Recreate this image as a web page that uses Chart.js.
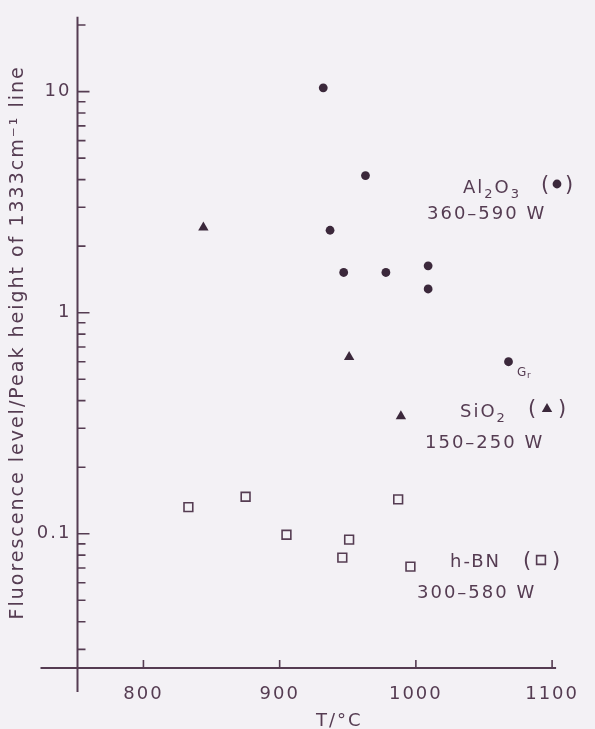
<!DOCTYPE html>
<html>
<head>
<meta charset="utf-8">
<script src="https://cdn.jsdelivr.net/npm/chart.js@4/dist/chart.umd.min.js"></script>
<style>
  html, body { margin: 0; padding: 0; background: #f3f1f5; }
  canvas { display: block; }
</style>
</head>
<body>
<canvas id="chart" width="595" height="729"></canvas>
<script>
// values: temperature (°C) and fluorescence / 1333 cm-1 peak ratio
const al2o3T = [932, 937, 947, 963, 978, 1009, 1009, 1068];
const al2o3Y = [10.4, 2.36, 1.52, 4.17, 1.52, 1.63, 1.28, 0.60];
const sio2T = [844, 951, 989];
const sio2Y = [2.43, 0.63, 0.34];
const hbnT = [833, 875, 905, 946, 951, 987, 996];
const hbnY = [0.132, 0.147, 0.099, 0.078, 0.094, 0.143, 0.071];

const xTicks = [800, 900, 1000, 1100];
const yTicks = [0.1, 1, 10];
const yMinorTicks = [0.03, 0.04, 0.05, 0.06, 0.07, 0.08, 0.09,
                     0.2, 0.3, 0.4, 0.5, 0.6, 0.7, 0.8, 0.9,
                     2, 3, 4, 5, 6, 7, 8, 9, 20];

const bg = '#f3f1f5';
const ink = '#553c52';   // axes and text
const mark = '#3b283b';  // filled markers
const fontFamily = '"DejaVu Sans", sans-serif';

function toPoints(xs, ys) {
    return xs.map((v, i) => ({ x: v, y: ys[i] }));
}

// draw a run of text pieces, subscripts dropped and smaller
function drawRuns(ctx, x, y, parts) {
    parts.forEach(([txt, sub]) => {
        ctx.font = (sub ? 13 : 18) + 'px ' + fontFamily;
        ctx.fillText(txt, x, y + (sub ? 5 : 0));
        x += ctx.measureText(txt).width;
    });
}

// parentheses around a key marker
function drawParens(ctx, left, right, y) {
    ctx.save();
    ctx.letterSpacing = '0px';
    ctx.textAlign = 'center';
    ctx.font = '21px ' + fontFamily;
    ctx.fillText('(', left, y);
    ctx.fillText(')', right, y);
    ctx.restore();
}

const framePlugin = {
    id: 'frame',
    beforeUpdate(chart) {
        chart.ctx.letterSpacing = '2px';
    },
    beforeDraw(chart) {
        const ctx = chart.ctx;
        ctx.letterSpacing = '2px';
        ctx.save();
        ctx.fillStyle = bg;
        ctx.fillRect(0, 0, chart.width, chart.height);
        ctx.restore();
    },
    beforeDatasetsDraw(chart) {
        const { ctx, scales: { x, y } } = chart;
        ctx.save();
        ctx.strokeStyle = ink;
        ctx.lineWidth = 2;
        ctx.beginPath();
        // axes cross and overshoot each other a little
        ctx.moveTo(x.left, y.top);
        ctx.lineTo(x.left, y.bottom + 24);
        ctx.moveTo(x.left - 37, y.bottom);
        ctx.lineTo(x.right + 4, y.bottom);
        ctx.stroke();

        ctx.lineWidth = 1.6;
        ctx.beginPath();
        yTicks.forEach(v => {
            const p = y.getPixelForValue(v);
            ctx.moveTo(x.left, p);
            ctx.lineTo(x.left + 12, p);
        });
        yMinorTicks.forEach(v => {
            const p = y.getPixelForValue(v);
            ctx.moveTo(x.left, p);
            ctx.lineTo(x.left + 8, p);
        });
        xTicks.forEach(v => {
            const p = x.getPixelForValue(v);
            ctx.moveTo(p, y.bottom);
            ctx.lineTo(p, y.bottom - 8);
        });
        ctx.stroke();
        ctx.restore();
    },
    afterDatasetsDraw(chart) {
        const ctx = chart.ctx;
        const ds = chart.data.datasets;
        ctx.save();
        ctx.fillStyle = ink;
        ctx.textAlign = 'left';
        ctx.textBaseline = 'alphabetic';

        // x axis title sits right of centre in the original
        drawRuns(ctx, 316, 726, [['T/°C', false]]);

        // Al2O3 label
        drawRuns(ctx, 463, 193, [['Al', false], ['2', true], ['O', false], ['3', true]]);
        drawParens(ctx, 545, 569, 191);
        drawRuns(ctx, 427, 219, [['360–590 W', false]]);

        // SiO2 label
        drawRuns(ctx, 460, 417, [['SiO', false], ['2', true]]);
        drawParens(ctx, 532, 562, 415);
        drawRuns(ctx, 425, 448, [['150–250 W', false]]);

        // h-BN label
        drawRuns(ctx, 450, 567, [['h-BN', false]]);
        drawParens(ctx, 527, 556, 567);
        drawRuns(ctx, 417, 598, [['300–580 W', false]]);

        // "Gr" tag beside the last Al2O3 point
        ctx.letterSpacing = '0px';
        ctx.font = '12px ' + fontFamily;
        ctx.fillText('G', 517, 376);
        ctx.font = '9px ' + fontFamily;
        ctx.fillText('r', 527, 378);

        // key markers inside the parentheses, same style as the datasets
        const key = (d, px, py) => {
            ctx.fillStyle = d.backgroundColor;
            ctx.strokeStyle = d.borderColor;
            ctx.lineWidth = d.borderWidth;
            Chart.helpers.drawPoint(ctx, {
                pointStyle: d.pointStyle, radius: d.pointRadius,
                borderWidth: d.borderWidth, rotation: 0
            }, px, py);
        };
        key(ds[0], 557, 184);
        key(ds[1], 547, 409);
        key(ds[2], 541, 560);
        ctx.restore();
    }
};

const tickFont = { family: fontFamily, size: 18 };

new Chart(document.getElementById('chart'), {
    type: 'scatter',
    data: {
        datasets: [
            {
                label: 'Al2O3 (360-590 W)',
                data: toPoints(al2o3T, al2o3Y),
                pointStyle: 'circle',
                pointRadius: 4.4,
                backgroundColor: mark,
                borderColor: mark,
                borderWidth: 0,
            },
            {
                label: 'SiO2 (150-250 W)',
                data: toPoints(sio2T, sio2Y),
                pointStyle: 'triangle',
                pointRadius: 6,
                backgroundColor: mark,
                borderColor: mark,
                borderWidth: 0,
            },
            {
                label: 'h-BN (300-580 W)',
                data: toPoints(hbnT, hbnY),
                pointStyle: 'rect',
                pointRadius: 6.2,
                backgroundColor: bg,
                borderColor: ink,
                borderWidth: 1.6,
            },
        ],
    },
    options: {
        responsive: false,
        animation: false,
        devicePixelRatio: 1,
        layout: { padding: { left: 0, top: 14, right: 39, bottom: 0 } },
        plugins: {
            legend: { display: false },
            tooltip: { enabled: false },
        },
        scales: {
            x: {
                type: 'linear',
                min: 751.6,
                max: 1100,
                grid: { display: false, drawTicks: false },
                border: { display: false },
                afterBuildTicks: s => { s.ticks = xTicks.map(v => ({ value: v })); },
                afterFit: s => { s.height = 61; },
                ticks: {
                    font: tickFont,
                    color: ink,
                    padding: 16,
                    maxRotation: 0,
                    autoSkip: false,
                    callback: v => String(v),
                },
            },
            y: {
                type: 'logarithmic',
                min: 0.0247,
                max: 21.8,
                grid: { display: false, drawTicks: false },
                border: { display: false },
                afterBuildTicks: s => { s.ticks = yTicks.map(v => ({ value: v })); },
                afterFit: s => { s.width = 77.5; },
                ticks: {
                    font: tickFont,
                    color: ink,
                    padding: 6,
                    autoSkip: false,
                    callback: v => String(v),
                },
                title: {
                    display: true,
                    text: 'Fluorescence level/Peak height of 1333cm⁻¹ line',
                    font: { family: fontFamily, size: 19 },
                    color: ink,
                    padding: { top: 7, bottom: 0 },
                },
            },
        },
    },
    plugins: [framePlugin],
});
</script>
</body>
</html>
